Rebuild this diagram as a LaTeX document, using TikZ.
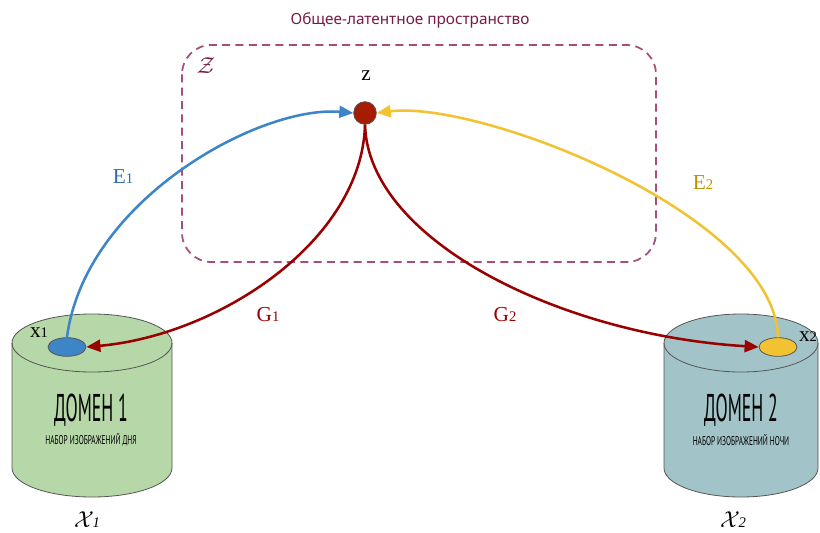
\documentclass[tikz,border=0pt]{standalone}
\usepackage{fontspec}
\setmainfont{Liberation Serif}
\newfontfamily\titlefont{Noto Sans}
\newfontfamily\domfont{PT Sans}
\usetikzlibrary{arrows.meta,shapes.geometric}
\definecolor{titlec}{HTML}{741B47}
\definecolor{dashc}{HTML}{A64D79}
\definecolor{bluec}{HTML}{3D85C6}
\definecolor{bluet}{HTML}{2F6DAA}
\definecolor{yelc}{HTML}{F1C232}
\definecolor{yelt}{HTML}{BF9000}
\definecolor{redc}{HTML}{990000}
\definecolor{zfill}{HTML}{A61C00}
\definecolor{greenc}{HTML}{B6D7A8}
\definecolor{tealc}{HTML}{A2C4C9}
\definecolor{edgec}{HTML}{555555}
\tikzset{
  flow/.style={line width=1.9pt,-{Triangle[length=10.5pt,width=9pt]}},
  dotnode/.style={ellipse,draw=edgec,line width=0.6pt,minimum width=28.5pt,minimum height=14pt,inner sep=0pt},
  lbl/.style={font=\fontsize{16}{18}\selectfont,inner sep=0pt},
  domtitle/.style={font=\domfont\fontsize{29}{30}\selectfont,inner sep=0pt},
  domsub/.style={font=\domfont\fontsize{9.5}{10}\selectfont,inner sep=0pt},
}
\newcommand{\cyl}[5]{% cx, topy, boty, rx, color
  \fill[#5] (#1-#4,#2) -- (#1-#4,#3) arc[start angle=180,end angle=0,x radius=#4,y radius=29] -- (#1+#4,#2) arc[start angle=0,end angle=-180,x radius=#4,y radius=29] -- cycle;
  \draw[edgec,line width=0.6pt] (#1-#4,#2) -- (#1-#4,#3) arc[start angle=180,end angle=0,x radius=#4,y radius=29] -- (#1+#4,#2);
  \draw[edgec,line width=0.6pt] (#1,#2) ellipse[x radius=#4,y radius=29];
}
\begin{document}
\begin{tikzpicture}[x=0.75pt,y=-0.75pt]
\useasboundingbox (0,0) rectangle (820,532);
% latent space
\node[font=\titlefont\fontsize{11.5}{13}\selectfont,text=titlec] (title) at (410,20) {Общее-латентное пространство};
\draw[dashc,line width=1.3pt,dash pattern=on 6pt off 4pt,rounded corners=22pt] (182,45) rectangle (656,262);
\node[text=titlec,font=\fontsize{16}{18}\selectfont] (Zlab) at (206,66) {$\mathcal{Z}$};
% cylinders
\cyl{92}{343}{468}{80}{greenc}
\cyl{741}{343}{468}{77}{tealc}
\node[domtitle] (d1) at (91,410) {\scalebox{0.46}[1]{\MakeUppercase{Домен 1}}};
\node[domsub] (s1) at (91,440) {\scalebox{0.58}[1]{\MakeUppercase{набор изображений дня}}};
\node[domtitle] (d2) at (741,410) {\scalebox{0.46}[1]{\MakeUppercase{Домен 2}}};
\node[domsub] (s2) at (741,440) {\scalebox{0.58}[1]{\MakeUppercase{набор изображений ночи}}};
% points
\node[circle,draw=edgec,line width=0.6pt,fill=zfill,minimum size=17pt,inner sep=0pt] (z) at (365,113) {};
\node[dotnode,fill=bluec] (x1) at (67,347) {};
\node[dotnode,fill=yelc] (x2) at (778,347) {};
\node[lbl] (zl) at (366,76) {z};
\node[lbl] (x1l) at (39,333) {x\raisebox{0pt}{\fontsize{11}{12}\selectfont 1}};
\node[lbl] (x2l) at (808,337) {x\raisebox{0pt}{\fontsize{11}{12}\selectfont 2}};
\node[lbl] (X1) at (87,520) {$\mathcal{X}$\kern-1pt{\itshape\fontsize{11}{12}\selectfont 1}};
\node[lbl] (X2) at (733,520) {$\mathcal{X}$\kern-1pt{\itshape\fontsize{11}{12}\selectfont 2}};
% connectors
\draw[flow,bluec] (x1.north) .. controls (85,200) and (260,105) .. (z.west);
\draw[flow,yelc] (x2.north) .. controls (775,215) and (480,100) .. (z.east);
\draw[flow,redc] (z.south) .. controls (362,240) and (220,335) .. (x1.east);
\draw[flow,redc] (z.south) .. controls (368,240) and (560,335) .. (x2.west);
% labels
\node[lbl,text=bluet] (E1) at (123,177) {E\raisebox{0pt}{\fontsize{11}{12}\selectfont 1}};
\node[lbl,text=yelt] (E2) at (703,183) {E\raisebox{0pt}{\fontsize{11}{12}\selectfont 2}};
\node[lbl,text=redc] (G1) at (268,315) {G\raisebox{0pt}{\fontsize{11}{12}\selectfont 1}};
\node[lbl,text=redc] (G2) at (505,315) {G\raisebox{0pt}{\fontsize{11}{12}\selectfont 2}};
\end{tikzpicture}
\end{document}
